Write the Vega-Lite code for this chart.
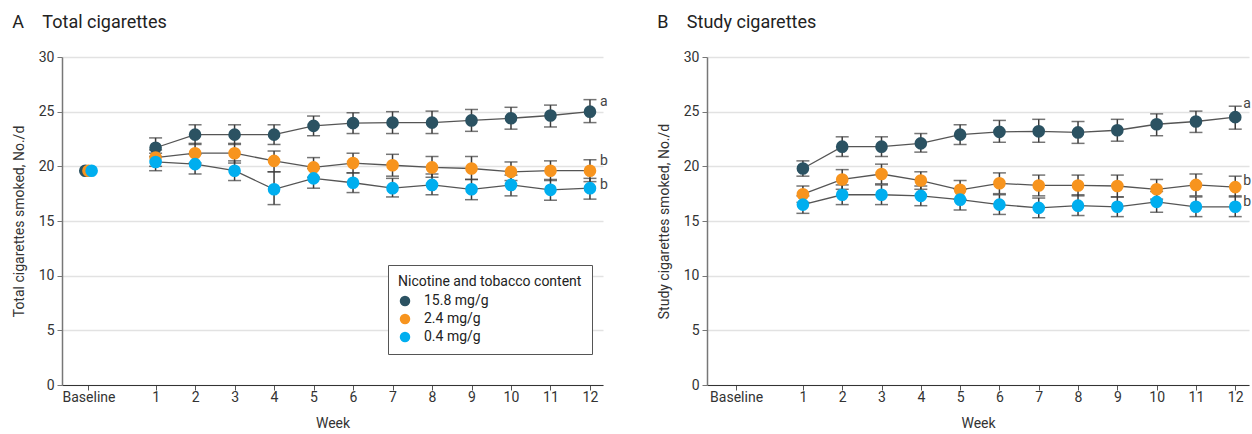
{
  "$schema": "https://vega.github.io/schema/vega-lite/v6.json",
  "padding": {"left": 12, "top": 14, "right": 0, "bottom": 4},
  "config": {
    "font": "Roboto",
    "view": {"stroke": null},
    "axis": {"labelFont": "Roboto", "titleFont": "Roboto", "labelFontSize": 14, "titleFontSize": 14, "labelColor": "#333", "titleColor": "#333", "titleFontWeight": "normal", "tickSize": 5},
    "title": {"font": "Roboto", "fontSize": 18, "fontWeight": "normal", "color": "#222", "anchor": "start", "frame": "bounds", "offset": 18}
  },
  "spacing": 49,
  "datasets": {
    "pts": [
      {"panel": "A", "group": "15.8 mg/g", "week": -0.78, "value": 19.6, "lo": null, "hi": null},
      {"panel": "A", "group": "2.4 mg/g", "week": -0.70, "value": 19.6, "lo": null, "hi": null},
      {"panel": "A", "group": "0.4 mg/g", "week": -0.62, "value": 19.6, "lo": null, "hi": null},
      {"panel": "A", "group": "15.8 mg/g", "week": 1, "value": 21.7, "lo": 20.9, "hi": 22.6},
      {"panel": "A", "group": "15.8 mg/g", "week": 2, "value": 22.9, "lo": 22.0, "hi": 23.8},
      {"panel": "A", "group": "15.8 mg/g", "week": 3, "value": 22.9, "lo": 22.0, "hi": 23.8},
      {"panel": "A", "group": "15.8 mg/g", "week": 4, "value": 22.9, "lo": 22.0, "hi": 23.8},
      {"panel": "A", "group": "15.8 mg/g", "week": 5, "value": 23.7, "lo": 22.8, "hi": 24.6},
      {"panel": "A", "group": "15.8 mg/g", "week": 6, "value": 23.95, "lo": 23.0, "hi": 24.9},
      {"panel": "A", "group": "15.8 mg/g", "week": 7, "value": 24.0, "lo": 23.0, "hi": 25.0},
      {"panel": "A", "group": "15.8 mg/g", "week": 8, "value": 24.0, "lo": 23.0, "hi": 25.05},
      {"panel": "A", "group": "15.8 mg/g", "week": 9, "value": 24.2, "lo": 23.2, "hi": 25.2},
      {"panel": "A", "group": "15.8 mg/g", "week": 10, "value": 24.4, "lo": 23.4, "hi": 25.4},
      {"panel": "A", "group": "15.8 mg/g", "week": 11, "value": 24.65, "lo": 23.6, "hi": 25.6},
      {"panel": "A", "group": "15.8 mg/g", "week": 12, "value": 25.0, "lo": 24.0, "hi": 26.1},
      {"panel": "A", "group": "2.4 mg/g", "week": 1, "value": 20.8, "lo": 20.0, "hi": 21.5},
      {"panel": "A", "group": "2.4 mg/g", "week": 2, "value": 21.2, "lo": 20.3, "hi": 22.1},
      {"panel": "A", "group": "2.4 mg/g", "week": 3, "value": 21.2, "lo": 20.3, "hi": 22.1},
      {"panel": "A", "group": "2.4 mg/g", "week": 4, "value": 20.5, "lo": 19.5, "hi": 21.4},
      {"panel": "A", "group": "2.4 mg/g", "week": 5, "value": 19.9, "lo": 19.0, "hi": 20.8},
      {"panel": "A", "group": "2.4 mg/g", "week": 6, "value": 20.3, "lo": 19.4, "hi": 21.2},
      {"panel": "A", "group": "2.4 mg/g", "week": 7, "value": 20.1, "lo": 19.1, "hi": 21.1},
      {"panel": "A", "group": "2.4 mg/g", "week": 8, "value": 19.9, "lo": 19.0, "hi": 20.9},
      {"panel": "A", "group": "2.4 mg/g", "week": 9, "value": 19.8, "lo": 18.8, "hi": 20.9},
      {"panel": "A", "group": "2.4 mg/g", "week": 10, "value": 19.5, "lo": 18.7, "hi": 20.4},
      {"panel": "A", "group": "2.4 mg/g", "week": 11, "value": 19.6, "lo": 18.7, "hi": 20.5},
      {"panel": "A", "group": "2.4 mg/g", "week": 12, "value": 19.6, "lo": 18.6, "hi": 20.6},
      {"panel": "A", "group": "0.4 mg/g", "week": 1, "value": 20.4, "lo": 19.6, "hi": 21.2},
      {"panel": "A", "group": "0.4 mg/g", "week": 2, "value": 20.2, "lo": 19.3, "hi": 21.1},
      {"panel": "A", "group": "0.4 mg/g", "week": 3, "value": 19.6, "lo": 18.7, "hi": 20.5},
      {"panel": "A", "group": "0.4 mg/g", "week": 4, "value": 17.9, "lo": 16.5, "hi": 19.5},
      {"panel": "A", "group": "0.4 mg/g", "week": 5, "value": 18.9, "lo": 18.0, "hi": 19.8},
      {"panel": "A", "group": "0.4 mg/g", "week": 6, "value": 18.5, "lo": 17.6, "hi": 19.4},
      {"panel": "A", "group": "0.4 mg/g", "week": 7, "value": 18.0, "lo": 17.2, "hi": 18.9},
      {"panel": "A", "group": "0.4 mg/g", "week": 8, "value": 18.3, "lo": 17.4, "hi": 19.3},
      {"panel": "A", "group": "0.4 mg/g", "week": 9, "value": 17.9, "lo": 16.95, "hi": 18.8},
      {"panel": "A", "group": "0.4 mg/g", "week": 10, "value": 18.3, "lo": 17.3, "hi": 19.2},
      {"panel": "A", "group": "0.4 mg/g", "week": 11, "value": 17.85, "lo": 16.9, "hi": 18.8},
      {"panel": "A", "group": "0.4 mg/g", "week": 12, "value": 18.0, "lo": 17.0, "hi": 18.9},
      {"panel": "B", "group": "15.8 mg/g", "week": 1, "value": 19.8, "lo": 19.1, "hi": 20.5},
      {"panel": "B", "group": "15.8 mg/g", "week": 2, "value": 21.8, "lo": 20.9, "hi": 22.7},
      {"panel": "B", "group": "15.8 mg/g", "week": 3, "value": 21.8, "lo": 20.9, "hi": 22.7},
      {"panel": "B", "group": "15.8 mg/g", "week": 4, "value": 22.1, "lo": 21.3, "hi": 23.0},
      {"panel": "B", "group": "15.8 mg/g", "week": 5, "value": 22.9, "lo": 22.0, "hi": 23.8},
      {"panel": "B", "group": "15.8 mg/g", "week": 6, "value": 23.15, "lo": 22.2, "hi": 24.2},
      {"panel": "B", "group": "15.8 mg/g", "week": 7, "value": 23.2, "lo": 22.2, "hi": 24.3},
      {"panel": "B", "group": "15.8 mg/g", "week": 8, "value": 23.1, "lo": 22.1, "hi": 24.1},
      {"panel": "B", "group": "15.8 mg/g", "week": 9, "value": 23.3, "lo": 22.3, "hi": 24.3},
      {"panel": "B", "group": "15.8 mg/g", "week": 10, "value": 23.85, "lo": 22.8, "hi": 24.8},
      {"panel": "B", "group": "15.8 mg/g", "week": 11, "value": 24.1, "lo": 23.1, "hi": 25.05},
      {"panel": "B", "group": "15.8 mg/g", "week": 12, "value": 24.5, "lo": 23.4, "hi": 25.5},
      {"panel": "B", "group": "2.4 mg/g", "week": 1, "value": 17.45, "lo": 16.7, "hi": 18.2},
      {"panel": "B", "group": "2.4 mg/g", "week": 2, "value": 18.8, "lo": 17.9, "hi": 19.7},
      {"panel": "B", "group": "2.4 mg/g", "week": 3, "value": 19.3, "lo": 18.4, "hi": 20.2},
      {"panel": "B", "group": "2.4 mg/g", "week": 4, "value": 18.7, "lo": 17.9, "hi": 19.5},
      {"panel": "B", "group": "2.4 mg/g", "week": 5, "value": 17.85, "lo": 17.0, "hi": 18.7},
      {"panel": "B", "group": "2.4 mg/g", "week": 6, "value": 18.45, "lo": 17.5, "hi": 19.4},
      {"panel": "B", "group": "2.4 mg/g", "week": 7, "value": 18.25, "lo": 17.3, "hi": 19.2},
      {"panel": "B", "group": "2.4 mg/g", "week": 8, "value": 18.25, "lo": 17.3, "hi": 19.2},
      {"panel": "B", "group": "2.4 mg/g", "week": 9, "value": 18.2, "lo": 17.2, "hi": 19.2},
      {"panel": "B", "group": "2.4 mg/g", "week": 10, "value": 17.9, "lo": 17.0, "hi": 18.8},
      {"panel": "B", "group": "2.4 mg/g", "week": 11, "value": 18.3, "lo": 17.3, "hi": 19.3},
      {"panel": "B", "group": "2.4 mg/g", "week": 12, "value": 18.1, "lo": 17.2, "hi": 19.1},
      {"panel": "B", "group": "0.4 mg/g", "week": 1, "value": 16.5, "lo": 15.7, "hi": 17.3},
      {"panel": "B", "group": "0.4 mg/g", "week": 2, "value": 17.4, "lo": 16.5, "hi": 18.3},
      {"panel": "B", "group": "0.4 mg/g", "week": 3, "value": 17.4, "lo": 16.5, "hi": 18.3},
      {"panel": "B", "group": "0.4 mg/g", "week": 4, "value": 17.3, "lo": 16.4, "hi": 18.2},
      {"panel": "B", "group": "0.4 mg/g", "week": 5, "value": 16.95, "lo": 16.0, "hi": 17.9},
      {"panel": "B", "group": "0.4 mg/g", "week": 6, "value": 16.5, "lo": 15.6, "hi": 17.4},
      {"panel": "B", "group": "0.4 mg/g", "week": 7, "value": 16.2, "lo": 15.3, "hi": 17.1},
      {"panel": "B", "group": "0.4 mg/g", "week": 8, "value": 16.4, "lo": 15.5, "hi": 17.4},
      {"panel": "B", "group": "0.4 mg/g", "week": 9, "value": 16.3, "lo": 15.4, "hi": 17.2},
      {"panel": "B", "group": "0.4 mg/g", "week": 10, "value": 16.75, "lo": 15.8, "hi": 17.7},
      {"panel": "B", "group": "0.4 mg/g", "week": 11, "value": 16.3, "lo": 15.4, "hi": 17.2},
      {"panel": "B", "group": "0.4 mg/g", "week": 12, "value": 16.3, "lo": 15.4, "hi": 17.3}
    ],
    "ann": [
      {"panel": "A", "week": 12, "value": 25.9, "label": "a"},
      {"panel": "A", "week": 12, "value": 20.5, "label": "b"},
      {"panel": "A", "week": 12, "value": 18.3, "label": "b"},
      {"panel": "B", "week": 12, "value": 25.7, "label": "a"},
      {"panel": "B", "week": 12, "value": 18.7, "label": "b"},
      {"panel": "B", "week": 12, "value": 16.75, "label": "b"}
    ]
  },
  "resolve": {"legend": {"color": "independent"}},
  "hconcat": [
    {
      "title": {"text": "A\u2003Total cigarettes"},
      "width": 541,
      "height": 328,
      "encoding": {
        "x": {"field": "week", "type": "quantitative", "scale": {"domain": [-1.37, 12.33], "nice": false, "zero": false},
              "axis": {"values": [-0.7, 1, 2, 3, 4, 5, 6, 7, 8, 9, 10, 11, 12], "labelExpr": "datum.value < 0 ? 'Baseline' : datum.label", "grid": false, "domainColor": "#333", "tickColor": "#555", "labelPadding": 0, "title": "Week", "titlePadding": 12}},
        "y": {"field": "value", "type": "quantitative", "scale": {"domain": [0, 30], "nice": false},
              "axis": {"values": [0, 5, 10, 15, 20, 25, 30], "grid": true, "gridColor": "#e2e2e2", "gridWidth": 1.5, "domainColor": "#777", "tickColor": "#777", "domainWidth": 1.5, "labelPadding": 3, "title": "Total cigarettes smoked, No./d", "titlePadding": 12}}
      },
      "layer": [
        {"data": {"name": "pts"}, "transform": [{"filter": "datum.panel === 'A' && datum.week > 0"}],
         "mark": {"type": "line", "color": "#555", "strokeWidth": 1.3},
         "encoding": {"detail": {"field": "group"}}},
        {"data": {"name": "pts"}, "transform": [{"filter": "datum.panel === 'A' && datum.week > 0"}],
         "mark": {"type": "errorbar", "ticks": true, "size": 13, "thickness": 1.5, "color": "#3a3a3a"},
         "encoding": {"y": {"field": "lo", "type": "quantitative"}, "y2": {"field": "hi"}}},
        {"data": {"name": "pts"}, "transform": [{"filter": "datum.panel === 'A'"}],
         "mark": {"type": "point", "filled": true, "opacity": 1, "size": 160},
         "encoding": {"color": {"field": "group", "type": "nominal", "sort": null,
            "scale": {"domain": ["15.8 mg/g", "2.4 mg/g", "0.4 mg/g"], "range": ["#2b5262", "#f7941e", "#00aeef"]},
            "legend": {"title": "Nicotine and tobacco content", "orient": "none", "legendX": 326, "legendY": 208,
              "strokeColor": "#555", "fillColor": "#fff", "padding": 10, "titleFontSize": 14, "titleFontWeight": "normal", "titleColor": "#222", "titleFont": "Roboto", "titleLimit": 400, "labelLimit": 300,
              "labelFontSize": 14, "labelFont": "Roboto", "labelColor": "#222", "symbolSize": 110, "symbolType": "circle", "rowPadding": 4, "titlePadding": 5, "labelOffset": 12}}}},
        {"data": {"name": "ann"}, "transform": [{"filter": "datum.panel === 'A'"}],
         "mark": {"type": "text", "align": "left", "baseline": "middle", "dx": 10, "fontSize": 14, "color": "#444"},
         "encoding": {"text": {"field": "label"}}}
      ]
    },
    {
      "title": {"text": "B\u2003Study cigarettes"},
      "width": 542,
      "height": 328,
      "encoding": {
        "x": {"field": "week", "type": "quantitative", "scale": {"domain": [-1.44, 12.35], "nice": false, "zero": false},
              "axis": {"values": [-0.7, 1, 2, 3, 4, 5, 6, 7, 8, 9, 10, 11, 12], "labelExpr": "datum.value < 0 ? 'Baseline' : datum.label", "grid": false, "domainColor": "#333", "tickColor": "#555", "labelPadding": 0, "title": "Week", "titlePadding": 12}},
        "y": {"field": "value", "type": "quantitative", "scale": {"domain": [0, 30], "nice": false},
              "axis": {"values": [0, 5, 10, 15, 20, 25, 30], "grid": true, "gridColor": "#e2e2e2", "gridWidth": 1.5, "domainColor": "#777", "tickColor": "#777", "domainWidth": 1.5, "labelPadding": 3, "title": "Study cigarettes smoked, No./d", "titlePadding": 12}}
      },
      "layer": [
        {"data": {"name": "pts"}, "transform": [{"filter": "datum.panel === 'B' && datum.week > 0"}],
         "mark": {"type": "line", "color": "#555", "strokeWidth": 1.3},
         "encoding": {"detail": {"field": "group"}}},
        {"data": {"name": "pts"}, "transform": [{"filter": "datum.panel === 'B' && datum.week > 0"}],
         "mark": {"type": "errorbar", "ticks": true, "size": 13, "thickness": 1.5, "color": "#3a3a3a"},
         "encoding": {"y": {"field": "lo", "type": "quantitative"}, "y2": {"field": "hi"}}},
        {"data": {"name": "pts"}, "transform": [{"filter": "datum.panel === 'B'"}],
         "mark": {"type": "point", "filled": true, "opacity": 1, "size": 160},
         "encoding": {"color": {"field": "group", "type": "nominal", "sort": null,
            "scale": {"domain": ["15.8 mg/g", "2.4 mg/g", "0.4 mg/g"], "range": ["#2b5262", "#f7941e", "#00aeef"]},
            "legend": null}}},
        {"data": {"name": "ann"}, "transform": [{"filter": "datum.panel === 'B'"}],
         "mark": {"type": "text", "align": "left", "baseline": "middle", "dx": 8, "fontSize": 14, "color": "#444"},
         "encoding": {"text": {"field": "label"}}}
      ]
    }
  ]
}
